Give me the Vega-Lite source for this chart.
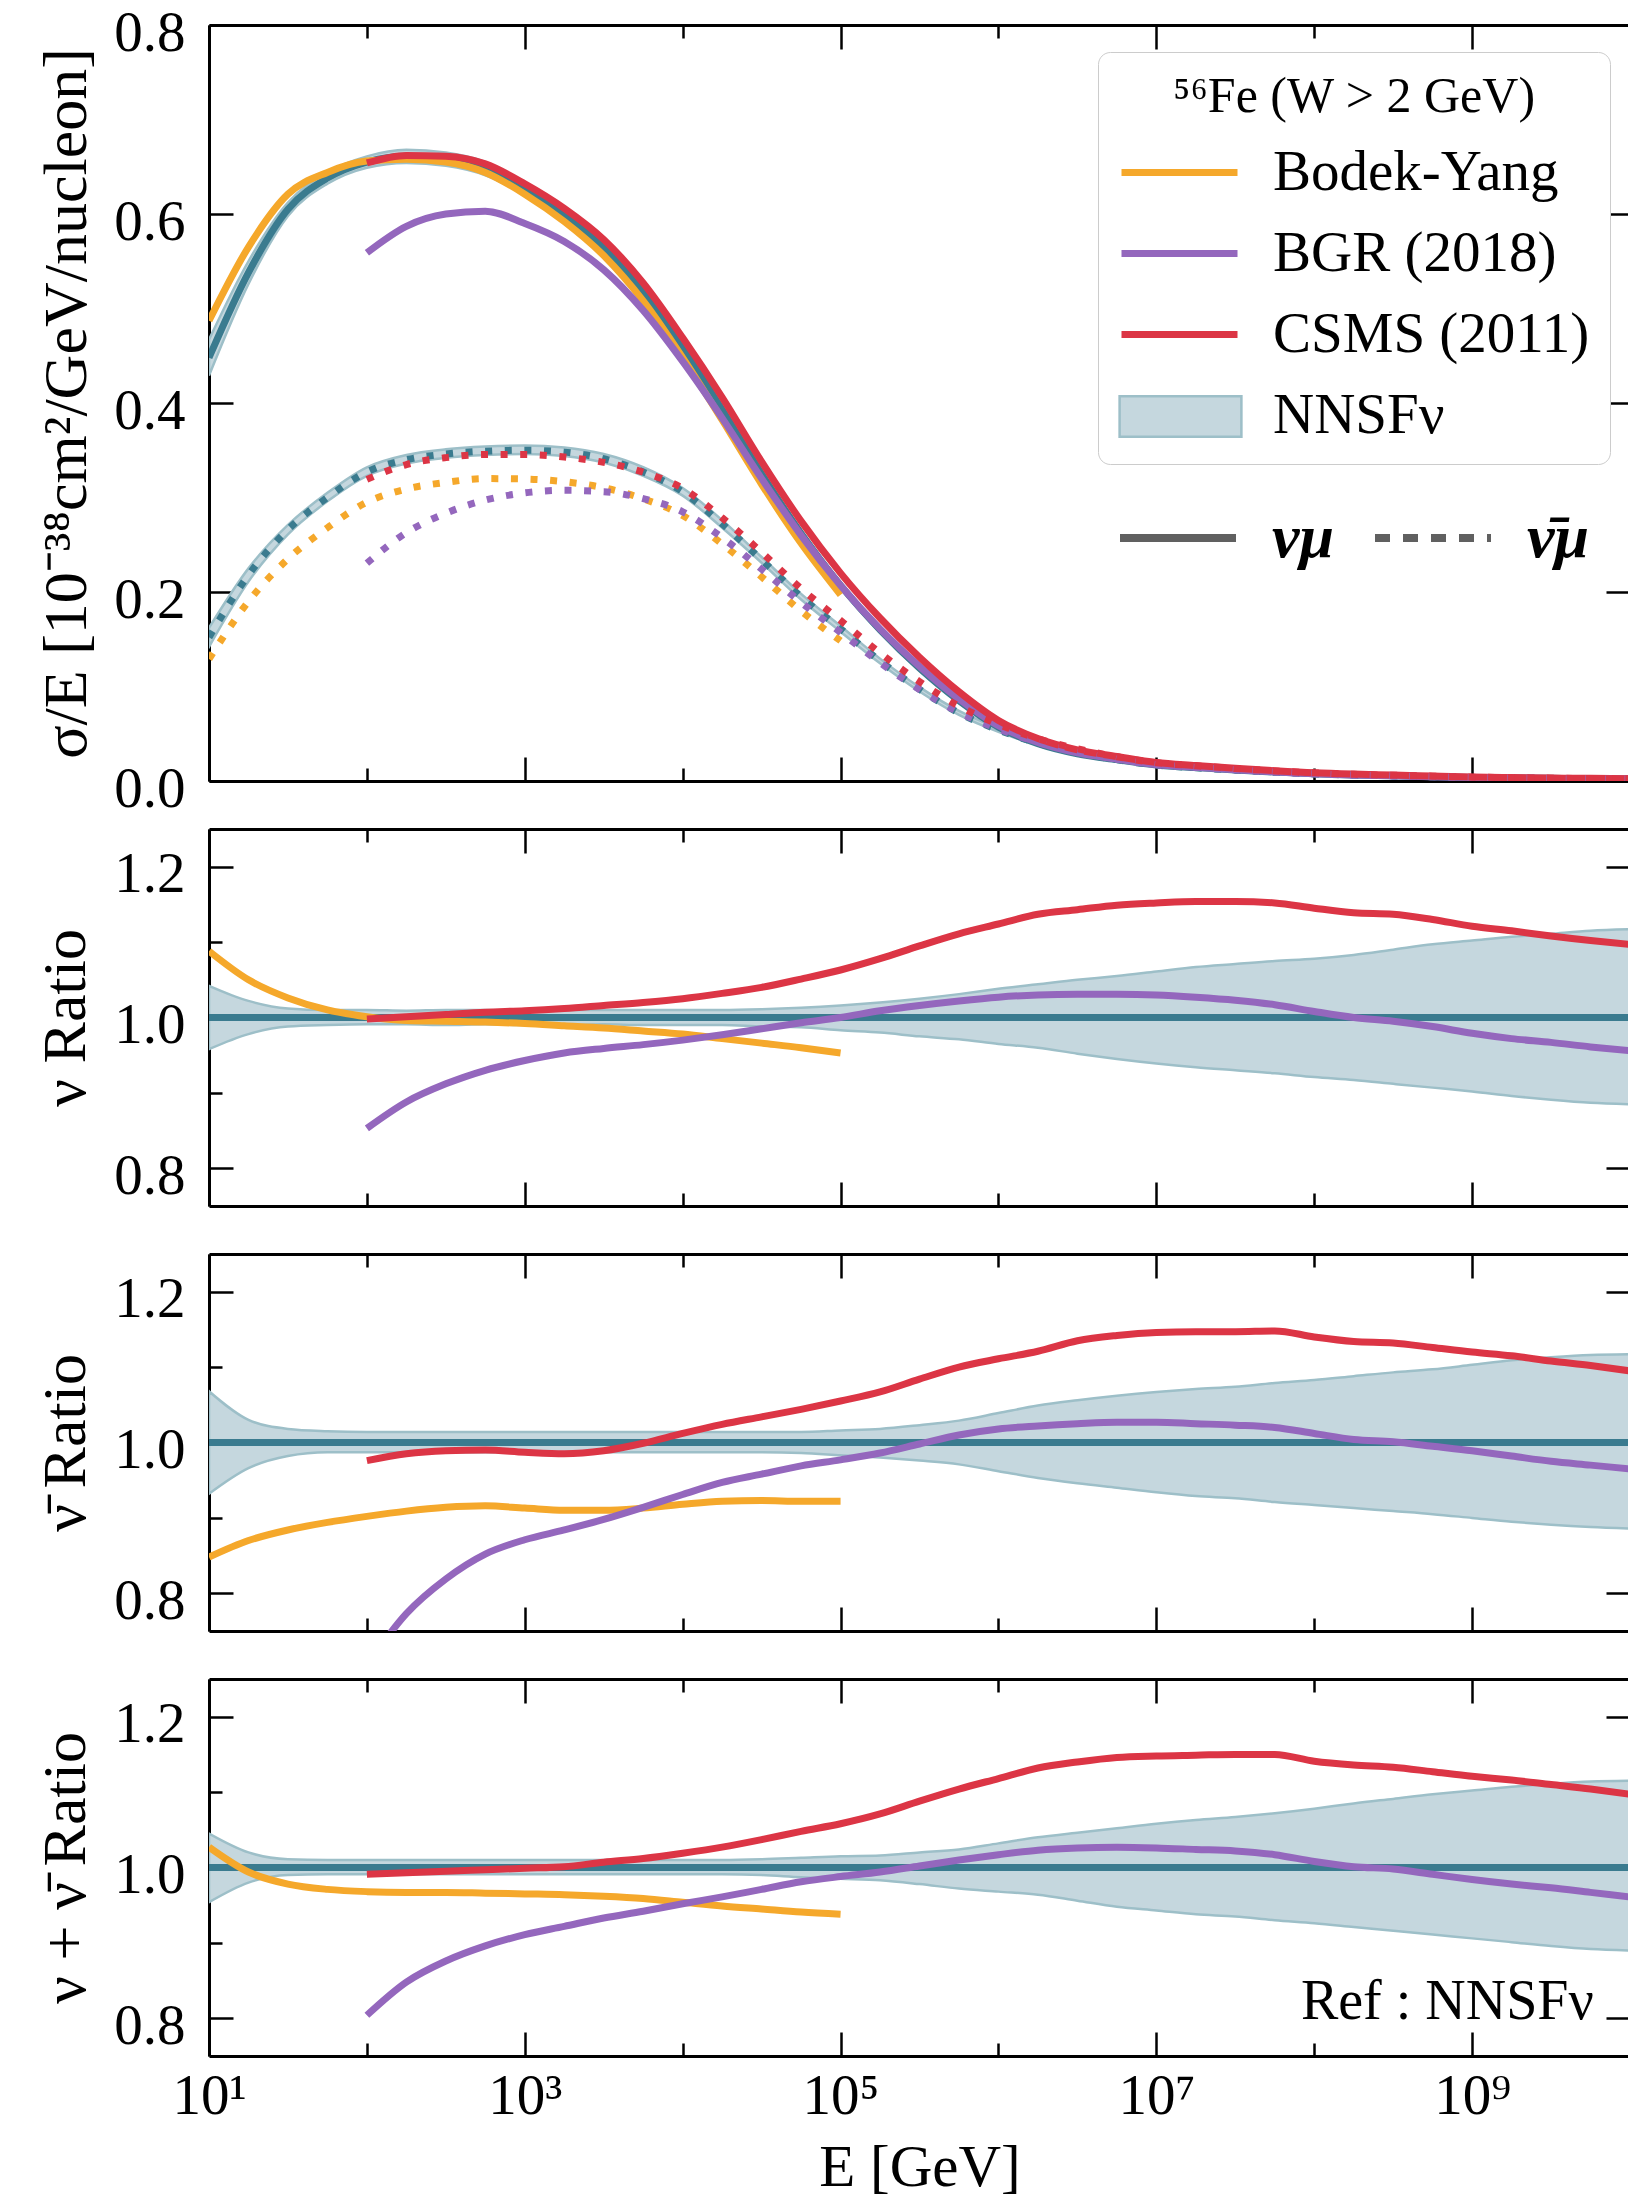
{
"$schema":"https://vega.github.io/schema/vega-lite/v6.json",
"background":"white",
"padding":{"left":33,"top":4,"right":0,"bottom":0},
"config":{"view":{"stroke":null},"font":"Liberation Serif",
"axis":{"labelFont":"Liberation Serif","titleFont":"Liberation Serif","labelFontSize":57,"titleFontSize":62,"titleFontWeight":"normal","labelColor":"#000000","titleColor":"#000000","tickColor":"#000000","domainColor":"#000000","domainWidth":3,"tickWidth":2.5,"grid":false,"labelFlush":false,"labelOverlap":false,"labelBound":false}},
"datasets":{
"top":[
{"E":10,"nu":"nu","c":0.448,"lo":0.429,"hi":0.467,"BY":0.487},
{"E":17.78,"nu":"nu","c":0.538,"lo":0.526,"hi":0.55,"BY":0.565},
{"E":31.62,"nu":"nu","c":0.605,"lo":0.598,"hi":0.612,"BY":0.621},
{"E":56.23,"nu":"nu","c":0.638,"lo":0.632,"hi":0.644,"BY":0.644},
{"E":100,"nu":"nu","c":0.655,"lo":0.649,"hi":0.661,"BY":0.656,"BGR":0.559,"CSMS":0.654},
{"E":177.8,"nu":"nu","c":0.661,"lo":0.654,"hi":0.668,"BY":0.658,"BGR":0.587,"CSMS":0.662},
{"E":316.2,"nu":"nu","c":0.658,"lo":0.651,"hi":0.665,"BY":0.655,"BGR":0.6,"CSMS":0.661},
{"E":562.3,"nu":"nu","c":0.648,"lo":0.641,"hi":0.655,"BY":0.644,"BGR":0.603,"CSMS":0.653},
{"E":1000,"nu":"nu","c":0.626,"lo":0.62,"hi":0.632,"BY":0.621,"BGR":0.59,"CSMS":0.632},
{"E":1778,"nu":"nu","c":0.599,"lo":0.593,"hi":0.605,"BY":0.592,"BGR":0.571,"CSMS":0.606},
{"E":3162,"nu":"nu","c":0.564,"lo":0.558,"hi":0.57,"BY":0.556,"BGR":0.541,"CSMS":0.573},
{"E":5623,"nu":"nu","c":0.517,"lo":0.512,"hi":0.522,"BY":0.508,"BGR":0.498,"CSMS":0.527},
{"E":10000,"nu":"nu","c":0.458,"lo":0.453,"hi":0.463,"BY":0.448,"BGR":0.444,"CSMS":0.469},
{"E":17783,"nu":"nu","c":0.393,"lo":0.389,"hi":0.397,"BY":0.382,"BGR":0.384,"CSMS":0.406},
{"E":31623,"nu":"nu","c":0.325,"lo":0.321,"hi":0.329,"BY":0.314,"BGR":0.32,"CSMS":0.338},
{"E":56234,"nu":"nu","c":0.262,"lo":0.259,"hi":0.265,"BY":0.2515,"BGR":0.26,"CSMS":0.275},
{"E":100000,"nu":"nu","c":0.207,"lo":0.204,"hi":0.21,"BY":0.197,"BGR":0.207,"CSMS":0.22},
{"E":177828,"nu":"nu","c":0.16,"lo":0.157,"hi":0.163,"BGR":0.161,"CSMS":0.1725},
{"E":316228,"nu":"nu","c":0.1195,"lo":0.1165,"hi":0.1225,"BGR":0.1214,"CSMS":0.1309},
{"E":562341,"nu":"nu","c":0.085,"lo":0.0825,"hi":0.0876,"BGR":0.0869,"CSMS":0.0944},
{"E":1000000,"nu":"nu","c":0.057,"lo":0.055,"hi":0.059,"BGR":0.0585,"CSMS":0.0641},
{"E":1778279,"nu":"nu","c":0.0395,"lo":0.038,"hi":0.041,"BGR":0.0407,"CSMS":0.0449},
{"E":3162278,"nu":"nu","c":0.0288,"lo":0.0274,"hi":0.0302,"BGR":0.0297,"CSMS":0.0329},
{"E":5623413,"nu":"nu","c":0.0226,"lo":0.0214,"hi":0.0238,"BGR":0.0233,"CSMS":0.026},
{"E":10000000,"nu":"nu","c":0.017,"lo":0.016,"hi":0.018,"BGR":0.0175,"CSMS":0.0196},
{"E":17782794,"nu":"nu","c":0.0142,"lo":0.0133,"hi":0.0151,"BGR":0.0146,"CSMS":0.0164},
{"E":31622777,"nu":"nu","c":0.0117,"lo":0.0109,"hi":0.0125,"BGR":0.012,"CSMS":0.0135},
{"E":56234133,"nu":"nu","c":0.0095,"lo":0.0088,"hi":0.0102,"BGR":0.0097,"CSMS":0.0109},
{"E":100000000,"nu":"nu","c":0.0076,"lo":0.007,"hi":0.0082,"BGR":0.0077,"CSMS":0.0087},
{"E":177827941,"nu":"nu","c":0.0064,"lo":0.0059,"hi":0.0069,"BGR":0.0064,"CSMS":0.0073},
{"E":316227766,"nu":"nu","c":0.0055,"lo":0.005,"hi":0.006,"BGR":0.0055,"CSMS":0.0063},
{"E":562341325,"nu":"nu","c":0.0046,"lo":0.0042,"hi":0.005,"BGR":0.0045,"CSMS":0.0052},
{"E":1000000000,"nu":"nu","c":0.0038,"lo":0.0034,"hi":0.0042,"BGR":0.0037,"CSMS":0.0043},
{"E":1778279410,"nu":"nu","c":0.0033,"lo":0.003,"hi":0.0036,"BGR":0.0032,"CSMS":0.0037},
{"E":3162277660,"nu":"nu","c":0.0028,"lo":0.0025,"hi":0.0031,"BGR":0.0027,"CSMS":0.0031},
{"E":5623413252,"nu":"nu","c":0.0025,"lo":0.0022,"hi":0.0028,"BGR":0.0024,"CSMS":0.0028},
{"E":10000000000,"nu":"nu","c":0.0022,"lo":0.0019,"hi":0.0025,"BGR":0.0021,"CSMS":0.0024},
{"E":10,"nu":"nubar","c":0.152,"lo":0.142,"hi":0.162,"BY":0.129},
{"E":17.78,"nu":"nubar","c":0.218,"lo":0.211,"hi":0.225,"BY":0.19},
{"E":31.62,"nu":"nubar","c":0.266,"lo":0.261,"hi":0.271,"BY":0.235},
{"E":56.23,"nu":"nubar","c":0.3,"lo":0.296,"hi":0.305,"BY":0.268},
{"E":100,"nu":"nubar","c":0.327,"lo":0.323,"hi":0.332,"BY":0.295,"BGR":0.2305,"CSMS":0.3192},
{"E":177.8,"nu":"nubar","c":0.34,"lo":0.336,"hi":0.345,"BY":0.309,"BGR":0.2628,"CSMS":0.3349},
{"E":316.2,"nu":"nubar","c":0.346,"lo":0.342,"hi":0.351,"BY":0.316,"BGR":0.2834,"CSMS":0.3422},
{"E":562.3,"nu":"nubar","c":0.349,"lo":0.345,"hi":0.354,"BY":0.32,"BGR":0.2973,"CSMS":0.3455},
{"E":1000,"nu":"nubar","c":0.35,"lo":0.346,"hi":0.355,"BY":0.3196,"BGR":0.3049,"CSMS":0.3455},
{"E":1778,"nu":"nubar","c":0.348,"lo":0.344,"hi":0.353,"BY":0.3167,"BGR":0.3076,"CSMS":0.3428},
{"E":3162,"nu":"nubar","c":0.341,"lo":0.337,"hi":0.346,"BY":0.3103,"BGR":0.3062,"CSMS":0.3372},
{"E":5623,"nu":"nubar","c":0.327,"lo":0.323,"hi":0.332,"BY":0.2986,"BGR":0.2989,"CSMS":0.3267},
{"E":10000,"nu":"nubar","c":0.306,"lo":0.302,"hi":0.31,"BY":0.2809,"BGR":0.2849,"CSMS":0.3097},
{"E":17783,"nu":"nubar","c":0.272,"lo":0.268,"hi":0.276,"BY":0.2508,"BGR":0.2576,"CSMS":0.2785},
{"E":31623,"nu":"nubar","c":0.234,"lo":0.231,"hi":0.237,"BY":0.216,"BGR":0.2242,"CSMS":0.242},
{"E":56234,"nu":"nubar","c":0.195,"lo":0.192,"hi":0.198,"BY":0.1798,"BGR":0.189,"CSMS":0.2036},
{"E":100000,"nu":"nubar","c":0.161,"lo":0.158,"hi":0.164,"BY":0.1484,"BGR":0.1573,"CSMS":0.1699},
{"E":177828,"nu":"nubar","c":0.127,"lo":0.1245,"hi":0.1295,"BGR":0.1252,"CSMS":0.1355},
{"E":316228,"nu":"nubar","c":0.097,"lo":0.0947,"hi":0.0993,"BGR":0.0968,"CSMS":0.1051},
{"E":562341,"nu":"nubar","c":0.072,"lo":0.0699,"hi":0.0741,"BGR":0.0727,"CSMS":0.0792},
{"E":1000000,"nu":"nubar","c":0.054,"lo":0.052,"hi":0.056,"BGR":0.055,"CSMS":0.06},
{"E":1778279,"nu":"nubar","c":0.04,"lo":0.0381,"hi":0.042,"BGR":0.0409,"CSMS":0.0448},
{"E":3162278,"nu":"nubar","c":0.03,"lo":0.0284,"hi":0.0317,"BGR":0.0308,"CSMS":0.0341},
{"E":5623413,"nu":"nubar","c":0.0225,"lo":0.0212,"hi":0.0239,"BGR":0.0231,"CSMS":0.0257},
{"E":10000000,"nu":"nubar","c":0.0168,"lo":0.0157,"hi":0.0179,"BGR":0.0173,"CSMS":0.0193},
{"E":17782794,"nu":"nubar","c":0.014,"lo":0.013,"hi":0.015,"BGR":0.0144,"CSMS":0.0161},
{"E":31622777,"nu":"nubar","c":0.0115,"lo":0.0106,"hi":0.0124,"BGR":0.0118,"CSMS":0.0132},
{"E":56234133,"nu":"nubar","c":0.0093,"lo":0.0086,"hi":0.01,"BGR":0.0095,"CSMS":0.0107},
{"E":100000000,"nu":"nubar","c":0.0075,"lo":0.0069,"hi":0.0081,"BGR":0.0076,"CSMS":0.0086},
{"E":177827941,"nu":"nubar","c":0.0063,"lo":0.0058,"hi":0.0069,"BGR":0.0063,"CSMS":0.0071},
{"E":316227766,"nu":"nubar","c":0.0054,"lo":0.0049,"hi":0.0059,"BGR":0.0054,"CSMS":0.0061},
{"E":562341325,"nu":"nubar","c":0.0045,"lo":0.0041,"hi":0.0049,"BGR":0.0045,"CSMS":0.0051},
{"E":1000000000,"nu":"nubar","c":0.0037,"lo":0.0033,"hi":0.0041,"BGR":0.0037,"CSMS":0.0041},
{"E":1778279410,"nu":"nubar","c":0.0032,"lo":0.0029,"hi":0.0035,"BGR":0.0031,"CSMS":0.0036},
{"E":3162277660,"nu":"nubar","c":0.0027,"lo":0.0024,"hi":0.003,"BGR":0.0026,"CSMS":0.003},
{"E":5623413252,"nu":"nubar","c":0.0024,"lo":0.0021,"hi":0.0027,"BGR":0.0023,"CSMS":0.0026},
{"E":10000000000,"nu":"nubar","c":0.0021,"lo":0.0019,"hi":0.0023,"BGR":0.002,"CSMS":0.0023}
],
"rnu":[
{"E":10,"lo":0.958,"hi":1.042,"BY":1.088},
{"E":17.78,"lo":0.978,"hi":1.022,"BY":1.05},
{"E":31.62,"lo":0.988,"hi":1.012,"BY":1.026},
{"E":56.23,"lo":0.99,"hi":1.01,"BY":1.01},
{"E":100,"lo":0.991,"hi":1.01,"BY":1.001,"BGR":0.853,"CSMS":0.998},
{"E":177.8,"lo":0.991,"hi":1.009,"BY":0.996,"BGR":0.888,"CSMS":1.001},
{"E":316.2,"lo":0.99,"hi":1.01,"BY":0.995,"BGR":0.912,"CSMS":1.004},
{"E":562.3,"lo":0.991,"hi":1.01,"BY":0.994,"BGR":0.93,"CSMS":1.007},
{"E":1000,"lo":0.99,"hi":1.009,"BY":0.992,"BGR":0.943,"CSMS":1.009},
{"E":1778,"lo":0.99,"hi":1.01,"BY":0.989,"BGR":0.953,"CSMS":1.012},
{"E":3162,"lo":0.991,"hi":1.01,"BY":0.986,"BGR":0.959,"CSMS":1.016},
{"E":5623,"lo":0.99,"hi":1.01,"BY":0.982,"BGR":0.964,"CSMS":1.02},
{"E":10000,"lo":0.99,"hi":1.01,"BY":0.978,"BGR":0.97,"CSMS":1.025},
{"E":17783,"lo":0.99,"hi":1.01,"BY":0.972,"BGR":0.977,"CSMS":1.032},
{"E":31623,"lo":0.988,"hi":1.011,"BY":0.966,"BGR":0.985,"CSMS":1.04},
{"E":56234,"lo":0.987,"hi":1.013,"BY":0.96,"BGR":0.993,"CSMS":1.051},
{"E":100000,"lo":0.983,"hi":1.016,"BY":0.953,"BGR":1.0,"CSMS":1.063},
{"E":177828,"lo":0.98,"hi":1.02,"BGR":1.009,"CSMS":1.078},
{"E":316228,"lo":0.975,"hi":1.025,"BGR":1.016,"CSMS":1.095},
{"E":562341,"lo":0.971,"hi":1.031,"BGR":1.022,"CSMS":1.111},
{"E":1000000,"lo":0.965,"hi":1.038,"BGR":1.027,"CSMS":1.124},
{"E":1778279,"lo":0.96,"hi":1.044,"BGR":1.03,"CSMS":1.137},
{"E":3162278,"lo":0.952,"hi":1.05,"BGR":1.031,"CSMS":1.143},
{"E":5623413,"lo":0.945,"hi":1.055,"BGR":1.031,"CSMS":1.149},
{"E":10000000,"lo":0.939,"hi":1.061,"BGR":1.03,"CSMS":1.152},
{"E":17782794,"lo":0.934,"hi":1.067,"BGR":1.027,"CSMS":1.154},
{"E":31622777,"lo":0.93,"hi":1.071,"BGR":1.023,"CSMS":1.154},
{"E":56234133,"lo":0.926,"hi":1.075,"BGR":1.017,"CSMS":1.152},
{"E":100000000,"lo":0.921,"hi":1.078,"BGR":1.008,"CSMS":1.145},
{"E":177827941,"lo":0.917,"hi":1.083,"BGR":1.0,"CSMS":1.139},
{"E":316227766,"lo":0.912,"hi":1.09,"BGR":0.995,"CSMS":1.137},
{"E":562341325,"lo":0.907,"hi":1.097,"BGR":0.988,"CSMS":1.13},
{"E":1000000000,"lo":0.902,"hi":1.102,"BGR":0.979,"CSMS":1.121},
{"E":1778279410,"lo":0.896,"hi":1.107,"BGR":0.972,"CSMS":1.115},
{"E":3162277660,"lo":0.891,"hi":1.111,"BGR":0.967,"CSMS":1.108},
{"E":5623413252,"lo":0.887,"hi":1.115,"BGR":0.961,"CSMS":1.102},
{"E":10000000000,"lo":0.885,"hi":1.117,"BGR":0.956,"CSMS":1.097}
],
"rnubar":[
{"E":10,"lo":0.932,"hi":1.068,"BY":0.848},
{"E":17.78,"lo":0.966,"hi":1.03,"BY":0.87},
{"E":31.62,"lo":0.982,"hi":1.018,"BY":0.884},
{"E":56.23,"lo":0.987,"hi":1.015,"BY":0.894},
{"E":100,"lo":0.987,"hi":1.014,"BY":0.902,"BGR":0.705,"CSMS":0.976},
{"E":177.8,"lo":0.987,"hi":1.014,"BY":0.909,"BGR":0.773,"CSMS":0.985},
{"E":316.2,"lo":0.987,"hi":1.014,"BY":0.914,"BGR":0.819,"CSMS":0.989},
{"E":562.3,"lo":0.987,"hi":1.014,"BY":0.916,"BGR":0.852,"CSMS":0.99},
{"E":1000,"lo":0.987,"hi":1.014,"BY":0.913,"BGR":0.871,"CSMS":0.987},
{"E":1778,"lo":0.987,"hi":1.014,"BY":0.91,"BGR":0.884,"CSMS":0.985},
{"E":3162,"lo":0.987,"hi":1.014,"BY":0.91,"BGR":0.898,"CSMS":0.989},
{"E":5623,"lo":0.987,"hi":1.014,"BY":0.913,"BGR":0.914,"CSMS":0.999},
{"E":10000,"lo":0.987,"hi":1.014,"BY":0.918,"BGR":0.931,"CSMS":1.012},
{"E":17783,"lo":0.987,"hi":1.014,"BY":0.922,"BGR":0.947,"CSMS":1.024},
{"E":31623,"lo":0.987,"hi":1.014,"BY":0.923,"BGR":0.958,"CSMS":1.034},
{"E":56234,"lo":0.986,"hi":1.014,"BY":0.922,"BGR":0.969,"CSMS":1.044},
{"E":100000,"lo":0.983,"hi":1.016,"BY":0.922,"BGR":0.977,"CSMS":1.055},
{"E":177828,"lo":0.98,"hi":1.018,"BGR":0.986,"CSMS":1.067},
{"E":316228,"lo":0.976,"hi":1.023,"BGR":0.998,"CSMS":1.084},
{"E":562341,"lo":0.971,"hi":1.029,"BGR":1.01,"CSMS":1.1},
{"E":1000000,"lo":0.962,"hi":1.039,"BGR":1.018,"CSMS":1.111},
{"E":1778279,"lo":0.953,"hi":1.049,"BGR":1.022,"CSMS":1.121},
{"E":3162278,"lo":0.946,"hi":1.056,"BGR":1.025,"CSMS":1.135},
{"E":5623413,"lo":0.94,"hi":1.062,"BGR":1.027,"CSMS":1.142},
{"E":10000000,"lo":0.934,"hi":1.067,"BGR":1.027,"CSMS":1.146},
{"E":17782794,"lo":0.929,"hi":1.071,"BGR":1.025,"CSMS":1.147},
{"E":31622777,"lo":0.926,"hi":1.074,"BGR":1.023,"CSMS":1.147},
{"E":56234133,"lo":0.921,"hi":1.079,"BGR":1.02,"CSMS":1.148},
{"E":100000000,"lo":0.917,"hi":1.083,"BGR":1.012,"CSMS":1.14},
{"E":177827941,"lo":0.913,"hi":1.088,"BGR":1.004,"CSMS":1.134},
{"E":316227766,"lo":0.909,"hi":1.093,"BGR":1.001,"CSMS":1.132},
{"E":562341325,"lo":0.905,"hi":1.097,"BGR":0.995,"CSMS":1.126},
{"E":1000000000,"lo":0.9,"hi":1.103,"BGR":0.989,"CSMS":1.12},
{"E":1778279410,"lo":0.895,"hi":1.109,"BGR":0.982,"CSMS":1.115},
{"E":3162277660,"lo":0.891,"hi":1.113,"BGR":0.975,"CSMS":1.108},
{"E":5623413252,"lo":0.888,"hi":1.116,"BGR":0.97,"CSMS":1.102},
{"E":10000000000,"lo":0.886,"hi":1.117,"BGR":0.965,"CSMS":1.095}
],
"rsum":[
{"E":10,"lo":0.954,"hi":1.045,"BY":1.027},
{"E":17.78,"lo":0.98,"hi":1.02,"BY":0.994},
{"E":31.62,"lo":0.99,"hi":1.011,"BY":0.978},
{"E":56.23,"lo":0.991,"hi":1.01,"BY":0.971},
{"E":100,"lo":0.991,"hi":1.01,"BY":0.968,"BGR":0.804,"CSMS":0.991},
{"E":177.8,"lo":0.991,"hi":1.01,"BY":0.967,"BGR":0.848,"CSMS":0.993},
{"E":316.2,"lo":0.991,"hi":1.01,"BY":0.967,"BGR":0.876,"CSMS":0.995},
{"E":562.3,"lo":0.991,"hi":1.01,"BY":0.966,"BGR":0.896,"CSMS":0.997},
{"E":1000,"lo":0.991,"hi":1.01,"BY":0.965,"BGR":0.911,"CSMS":0.999},
{"E":1778,"lo":0.991,"hi":1.01,"BY":0.964,"BGR":0.922,"CSMS":1.001},
{"E":3162,"lo":0.991,"hi":1.01,"BY":0.962,"BGR":0.933,"CSMS":1.007},
{"E":5623,"lo":0.991,"hi":1.01,"BY":0.959,"BGR":0.942,"CSMS":1.012},
{"E":10000,"lo":0.991,"hi":1.01,"BY":0.954,"BGR":0.952,"CSMS":1.019},
{"E":17783,"lo":0.991,"hi":1.01,"BY":0.949,"BGR":0.961,"CSMS":1.027},
{"E":31623,"lo":0.99,"hi":1.011,"BY":0.945,"BGR":0.971,"CSMS":1.037},
{"E":56234,"lo":0.987,"hi":1.013,"BY":0.941,"BGR":0.981,"CSMS":1.048},
{"E":100000,"lo":0.985,"hi":1.015,"BY":0.938,"BGR":0.988,"CSMS":1.058},
{"E":177828,"lo":0.983,"hi":1.016,"BGR":0.994,"CSMS":1.071},
{"E":316228,"lo":0.978,"hi":1.02,"BGR":1.002,"CSMS":1.088},
{"E":562341,"lo":0.972,"hi":1.024,"BGR":1.01,"CSMS":1.104},
{"E":1000000,"lo":0.968,"hi":1.032,"BGR":1.017,"CSMS":1.118},
{"E":1778279,"lo":0.964,"hi":1.04,"BGR":1.023,"CSMS":1.132},
{"E":3162278,"lo":0.956,"hi":1.046,"BGR":1.026,"CSMS":1.14},
{"E":5623413,"lo":0.948,"hi":1.052,"BGR":1.027,"CSMS":1.146},
{"E":10000000,"lo":0.943,"hi":1.058,"BGR":1.026,"CSMS":1.148},
{"E":17782794,"lo":0.938,"hi":1.063,"BGR":1.024,"CSMS":1.149},
{"E":31622777,"lo":0.935,"hi":1.067,"BGR":1.022,"CSMS":1.15},
{"E":56234133,"lo":0.93,"hi":1.072,"BGR":1.017,"CSMS":1.15},
{"E":100000000,"lo":0.926,"hi":1.078,"BGR":1.008,"CSMS":1.141},
{"E":177827941,"lo":0.921,"hi":1.085,"BGR":1.001,"CSMS":1.136},
{"E":316227766,"lo":0.916,"hi":1.091,"BGR":0.998,"CSMS":1.133},
{"E":562341325,"lo":0.911,"hi":1.097,"BGR":0.991,"CSMS":1.127},
{"E":1000000000,"lo":0.906,"hi":1.102,"BGR":0.984,"CSMS":1.121},
{"E":1778279410,"lo":0.901,"hi":1.107,"BGR":0.978,"CSMS":1.116},
{"E":3162277660,"lo":0.896,"hi":1.111,"BGR":0.973,"CSMS":1.11},
{"E":5623413252,"lo":0.892,"hi":1.114,"BGR":0.967,"CSMS":1.104},
{"E":10000000000,"lo":0.89,"hi":1.115,"BGR":0.961,"CSMS":1.097}
]
},
"spacing":48,
"bounds":"flush",
"resolve":{"scale":{"color":"independent","strokeDash":"independent","fill":"independent"}},
"vconcat":[
{
"width":1421,"height":756,
"data":{"name":"top"},
"resolve":{"axis":{"x":"independent","y":"independent"}},
"layer":[
{"transform":[{"filter":"datum.nu == 'nu'"}],
"mark":{"type":"area","interpolate":"monotone","fill":"#c5d7de","stroke":"#9dbfc8","strokeWidth":2.5,"clip":true},
"encoding":{
"x":{"field":"E","type":"quantitative","scale":{"type":"log","domain":[10,10000000000],"nice":false},"axis":{"orient":"bottom","values":[10,1000,100000,10000000,1000000000],"tickSize":-24,"labels":false,"title":null}},
"y":{"field":"lo","type":"quantitative","scale":{"domain":[0,0.8],"nice":false,"zero":false},"axis":{"orient":"left","values":[0,0.2,0.4,0.6,0.8],"format":".1f","tickSize":-24,"labelPadding":48,"labelOffset":8,"title":"σ/E [10⁻³⁸cm²/GeV/nucleon]","titleX":-143,"titleBaseline":"middle"}},
"y2":{"field":"hi"}}},
{"transform":[{"filter":"datum.nu == 'nubar'"}],
"mark":{"type":"area","interpolate":"monotone","fill":"#c5d7de","stroke":"#9dbfc8","strokeWidth":2.5,"clip":true},
"encoding":{
"x":{"field":"E","type":"quantitative","scale":{"type":"log","domain":[10,10000000000],"nice":false},"axis":{"orient":"bottom","values":[100,10000,1000000,100000000],"tickSize":-13,"labels":false,"domain":false,"title":null}},
"y":{"field":"lo","type":"quantitative","scale":{"domain":[0,0.8],"nice":false,"zero":false},"axis":{"orient":"right","values":[0,0.2,0.4,0.6,0.8],"tickSize":-24,"labels":false,"domain":false,"title":null}},
"y2":{"field":"hi"}}},
{"transform":[{"filter":"datum.nu == 'nu'"}],
"mark":{"type":"line","interpolate":"monotone","strokeWidth":7,"color":"#3a7b8f","clip":true},
"encoding":{
"x":{"field":"E","type":"quantitative","scale":{"type":"log","domain":[10,10000000000],"nice":false},"axis":{"orient":"top","values":[10,1000,100000,10000000,1000000000],"tickSize":-24,"labels":false,"title":null}},
"y":{"field":"c","type":"quantitative","scale":{"domain":[0,0.8],"nice":false,"zero":false},"axis":null}}},
{"transform":[{"filter":"datum.nu == 'nubar'"}],
"mark":{"type":"line","interpolate":"monotone","strokeWidth":7,"color":"#3a7b8f","strokeDash":[7,12.6],"clip":true},
"encoding":{
"x":{"field":"E","type":"quantitative","scale":{"type":"log","domain":[10,10000000000],"nice":false},"axis":{"orient":"top","values":[100,10000,1000000,100000000],"tickSize":-13,"labels":false,"domain":false,"title":null}},
"y":{"field":"c","type":"quantitative","scale":{"domain":[0,0.8],"nice":false,"zero":false},"axis":null}}},
{"transform":[{"filter":"datum.nu == 'nu'"},{"fold":["BY","BGR","CSMS"],"as":["model","val"]}],
"mark":{"type":"line","interpolate":"monotone","strokeWidth":7,"clip":true},
"encoding":{
"x":{"field":"E","type":"quantitative","scale":{"type":"log","domain":[10,10000000000],"nice":false},"axis":null},
"y":{"field":"val","type":"quantitative","scale":{"domain":[0,0.8],"nice":false,"zero":false},"axis":null},
"color":{"field":"model","type":"nominal","scale":{"domain":["BY","BGR","CSMS","NNSFν"],"range":["#f5a82b","#9467bd","#dc3545","#c5d7de"]},
"legend":{"orient":"none","legendX":889,"legendY":27,"title":"⁵⁶Fe (W > 2 GeV)","titleFontSize":50,"titleFontWeight":"normal","titleFont":"Liberation Serif","titleColor":"#000000","titleAnchor":"middle","titlePadding":18,"titleLimit":1000,"labelFont":"Liberation Serif","labelFontSize":57,"labelColor":"#000000","labelLimit":1000,"labelOffset":90,"symbolSize":3364,"symbolType":"M-1,0H3","symbolStrokeWidth":7,"rowPadding":20,"padding":20,"fillColor":"white","strokeColor":"#cccccc","cornerRadius":12,
"labelExpr":"datum.value == 'BY' ? 'Bodek-Yang' : datum.value == 'BGR' ? 'BGR (2018)' : datum.value == 'CSMS' ? 'CSMS (2011)' : 'NNSFν'"}}}},
{"transform":[{"filter":"datum.nu == 'nubar'"},{"fold":["BY","BGR","CSMS"],"as":["model","val"]}],
"mark":{"type":"line","interpolate":"monotone","strokeWidth":7,"strokeDash":[7,12.6],"clip":true},
"encoding":{
"x":{"field":"E","type":"quantitative","scale":{"type":"log","domain":[10,10000000000],"nice":false},"axis":null},
"y":{"field":"val","type":"quantitative","scale":{"domain":[0,0.8],"nice":false,"zero":false},"axis":null},
"color":{"field":"model","type":"nominal","scale":{"domain":["BY","BGR","CSMS","NNSFν"],"range":["#f5a82b","#9467bd","#dc3545","#c5d7de"]}}}},
{"transform":[{"filter":"datum.E < 0"}],
"mark":{"type":"area"},
"encoding":{
"x":{"field":"E","type":"quantitative","scale":{"type":"log","domain":[10,10000000000],"nice":false},"axis":null},
"y":{"field":"lo","type":"quantitative","scale":{"domain":[0,0.8],"nice":false,"zero":false},"axis":null},
"y2":{"field":"hi"},
"fill":{"field":"nu","type":"nominal","scale":{"domain":["NNSFν"],"range":["#c5d7de"]},
"legend":{"orient":"none","legendX":912,"legendY":361,"title":null,"padding":0,"symbolType":"M-1.1,-0.7H3.1V0.7H-1.1Z","symbolSize":3364,"symbolStrokeColor":"#9dbfc8","symbolStrokeWidth":2.5,"symbolOpacity":1,"labelExpr":"''","labelFontSize":1}}}},
{"transform":[{"filter":"datum.E < 0"}],
"mark":{"type":"line"},
"encoding":{
"x":{"field":"E","type":"quantitative","scale":{"type":"log","domain":[10,10000000000],"nice":false},"axis":null},
"y":{"field":"c","type":"quantitative","scale":{"domain":[0,0.8],"nice":false,"zero":false},"axis":null},
"strokeDash":{"field":"nu","type":"nominal","scale":{"domain":["nu","nubar"],"range":[[1,0],[15,13]]},
"legend":{"orient":"none","legendX":907,"legendY":480,"direction":"horizontal","title":null,"padding":0,"labelFont":"Liberation Serif","labelFontSize":62,"labelFontStyle":"italic","labelFontWeight":"bold","labelColor":"#000000","labelOffset":90,"columnPadding":25,"symbolSize":3364,"symbolType":"M-1,0H3","symbolStrokeWidth":8,"symbolStrokeColor":"#606060","symbolOpacity":1,"labelLimit":1000,
"labelExpr":"datum.value == 'nu' ? 'νμ' : 'ν̄μ'"}}}}
]},
{
"width":1421,"height":377,
"data":{"name":"rnu"},
"resolve":{"axis":{"x":"independent","y":"independent"}},
"layer":[
{"mark":{"type":"area","interpolate":"monotone","fill":"#c5d7de","stroke":"#9dbfc8","strokeWidth":2.5,"clip":true},
"encoding":{
"x":{"field":"E","type":"quantitative","scale":{"type":"log","domain":[10,10000000000],"nice":false},"axis":{"orient":"bottom","values":[10,1000,100000,10000000,1000000000],"tickSize":-24,"labels":false,"title":null}},
"y":{"field":"lo","type":"quantitative","scale":{"domain":[0.75,1.25],"nice":false,"zero":false},"axis":{"orient":"left","values":[0.8,1.0,1.2],"format":".1f","tickSize":-24,"labelPadding":48,"labelOffset":8,"title":"ν Ratio","titleX":-144,"titleBaseline":"middle"}},
"y2":{"field":"hi"}}},
{"mark":{"type":"rule","color":"#3a7b8f","strokeWidth":7},
"encoding":{"y":{"datum":1,"type":"quantitative","scale":{"domain":[0.75,1.25],"nice":false,"zero":false},"axis":null}}},
{"mark":{"type":"line","interpolate":"monotone","strokeWidth":7,"color":"#f5a82b","clip":true},
"encoding":{
"x":{"field":"E","type":"quantitative","scale":{"type":"log","domain":[10,10000000000],"nice":false},"axis":{"orient":"bottom","values":[100,10000,1000000,100000000],"tickSize":-13,"labels":false,"domain":false,"title":null}},
"y":{"field":"BY","type":"quantitative","scale":{"domain":[0.75,1.25],"nice":false,"zero":false},"axis":{"orient":"left","values":[0.9,1.1],"tickSize":-13,"labels":false,"domain":false,"title":null}}}},
{"mark":{"type":"line","interpolate":"monotone","strokeWidth":7,"color":"#9467bd","clip":true},
"encoding":{
"x":{"field":"E","type":"quantitative","scale":{"type":"log","domain":[10,10000000000],"nice":false},"axis":{"orient":"top","values":[10,1000,100000,10000000,1000000000],"tickSize":-24,"labels":false,"title":null}},
"y":{"field":"BGR","type":"quantitative","scale":{"domain":[0.75,1.25],"nice":false,"zero":false},"axis":{"orient":"right","values":[0.8,1.0,1.2],"tickSize":-24,"labels":false,"domain":false,"title":null}}}},
{"mark":{"type":"line","interpolate":"monotone","strokeWidth":7,"color":"#dc3545","clip":true},
"encoding":{
"x":{"field":"E","type":"quantitative","scale":{"type":"log","domain":[10,10000000000],"nice":false},"axis":{"orient":"top","values":[100,10000,1000000,100000000],"tickSize":-13,"labels":false,"domain":false,"title":null}},
"y":{"field":"CSMS","type":"quantitative","scale":{"domain":[0.75,1.25],"nice":false,"zero":false},"axis":{"orient":"right","values":[0.9,1.1],"tickSize":-13,"labels":false,"domain":false,"title":null}}}}
]},
{
"width":1421,"height":377,
"data":{"name":"rnubar"},
"resolve":{"axis":{"x":"independent","y":"independent"}},
"layer":[
{"mark":{"type":"area","interpolate":"monotone","fill":"#c5d7de","stroke":"#9dbfc8","strokeWidth":2.5,"clip":true},
"encoding":{
"x":{"field":"E","type":"quantitative","scale":{"type":"log","domain":[10,10000000000],"nice":false},"axis":{"orient":"bottom","values":[10,1000,100000,10000000,1000000000],"tickSize":-24,"labels":false,"title":null}},
"y":{"field":"lo","type":"quantitative","scale":{"domain":[0.75,1.25],"nice":false,"zero":false},"axis":{"orient":"left","values":[0.8,1.0,1.2],"format":".1f","tickSize":-24,"labelPadding":48,"labelOffset":8,"title":"ν̄ Ratio","titleX":-144,"titleBaseline":"middle"}},
"y2":{"field":"hi"}}},
{"mark":{"type":"rule","color":"#3a7b8f","strokeWidth":7},
"encoding":{"y":{"datum":1,"type":"quantitative","scale":{"domain":[0.75,1.25],"nice":false,"zero":false},"axis":null}}},
{"mark":{"type":"line","interpolate":"monotone","strokeWidth":7,"color":"#f5a82b","clip":true},
"encoding":{
"x":{"field":"E","type":"quantitative","scale":{"type":"log","domain":[10,10000000000],"nice":false},"axis":{"orient":"bottom","values":[100,10000,1000000,100000000],"tickSize":-13,"labels":false,"domain":false,"title":null}},
"y":{"field":"BY","type":"quantitative","scale":{"domain":[0.75,1.25],"nice":false,"zero":false},"axis":{"orient":"left","values":[0.9,1.1],"tickSize":-13,"labels":false,"domain":false,"title":null}}}},
{"mark":{"type":"line","interpolate":"monotone","strokeWidth":7,"color":"#9467bd","clip":true},
"encoding":{
"x":{"field":"E","type":"quantitative","scale":{"type":"log","domain":[10,10000000000],"nice":false},"axis":{"orient":"top","values":[10,1000,100000,10000000,1000000000],"tickSize":-24,"labels":false,"title":null}},
"y":{"field":"BGR","type":"quantitative","scale":{"domain":[0.75,1.25],"nice":false,"zero":false},"axis":{"orient":"right","values":[0.8,1.0,1.2],"tickSize":-24,"labels":false,"domain":false,"title":null}}}},
{"mark":{"type":"line","interpolate":"monotone","strokeWidth":7,"color":"#dc3545","clip":true},
"encoding":{
"x":{"field":"E","type":"quantitative","scale":{"type":"log","domain":[10,10000000000],"nice":false},"axis":{"orient":"top","values":[100,10000,1000000,100000000],"tickSize":-13,"labels":false,"domain":false,"title":null}},
"y":{"field":"CSMS","type":"quantitative","scale":{"domain":[0.75,1.25],"nice":false,"zero":false},"axis":{"orient":"right","values":[0.9,1.1],"tickSize":-13,"labels":false,"domain":false,"title":null}}}}
]},
{
"width":1421,"height":377,
"data":{"name":"rsum"},
"resolve":{"axis":{"x":"independent","y":"independent"}},
"layer":[
{"mark":{"type":"area","interpolate":"monotone","fill":"#c5d7de","stroke":"#9dbfc8","strokeWidth":2.5,"clip":true},
"encoding":{
"x":{"field":"E","type":"quantitative","scale":{"type":"log","domain":[10,10000000000],"nice":false},"axis":{"orient":"bottom","values":[10,1000,100000,10000000,1000000000],"tickSize":-24,"labelPadding":36,"labelExpr":"'10' + (datum.value < 100 ? '¹' : datum.value < 10000 ? '³' : datum.value < 1000000 ? '⁵' : datum.value < 100000000 ? '⁷' : '⁹')","title":"E [GeV]","titlePadding":14,"titleFontSize":59}},
"y":{"field":"lo","type":"quantitative","scale":{"domain":[0.75,1.25],"nice":false,"zero":false},"axis":{"orient":"left","values":[0.8,1.0,1.2],"format":".1f","tickSize":-24,"labelPadding":48,"labelOffset":8,"title":"ν + ν̄ Ratio","titleX":-144,"titleBaseline":"middle"}},
"y2":{"field":"hi"}}},
{"mark":{"type":"rule","color":"#3a7b8f","strokeWidth":7},
"encoding":{"y":{"datum":1,"type":"quantitative","scale":{"domain":[0.75,1.25],"nice":false,"zero":false},"axis":null}}},
{"mark":{"type":"line","interpolate":"monotone","strokeWidth":7,"color":"#f5a82b","clip":true},
"encoding":{
"x":{"field":"E","type":"quantitative","scale":{"type":"log","domain":[10,10000000000],"nice":false},"axis":{"orient":"bottom","values":[100,10000,1000000,100000000],"tickSize":-13,"labels":false,"domain":false,"title":null}},
"y":{"field":"BY","type":"quantitative","scale":{"domain":[0.75,1.25],"nice":false,"zero":false},"axis":{"orient":"left","values":[0.9,1.1],"tickSize":-13,"labels":false,"domain":false,"title":null}}}},
{"mark":{"type":"line","interpolate":"monotone","strokeWidth":7,"color":"#9467bd","clip":true},
"encoding":{
"x":{"field":"E","type":"quantitative","scale":{"type":"log","domain":[10,10000000000],"nice":false},"axis":{"orient":"top","values":[10,1000,100000,10000000,1000000000],"tickSize":-24,"labels":false,"title":null}},
"y":{"field":"BGR","type":"quantitative","scale":{"domain":[0.75,1.25],"nice":false,"zero":false},"axis":{"orient":"right","values":[0.8,1.0,1.2],"tickSize":-24,"labels":false,"domain":false,"title":null}}}},
{"mark":{"type":"line","interpolate":"monotone","strokeWidth":7,"color":"#dc3545","clip":true},
"encoding":{
"x":{"field":"E","type":"quantitative","scale":{"type":"log","domain":[10,10000000000],"nice":false},"axis":{"orient":"top","values":[100,10000,1000000,100000000],"tickSize":-13,"labels":false,"domain":false,"title":null}},
"y":{"field":"CSMS","type":"quantitative","scale":{"domain":[0.75,1.25],"nice":false,"zero":false},"axis":{"orient":"right","values":[0.9,1.1],"tickSize":-13,"labels":false,"domain":false,"title":null}}}},
{"data":{"values":[{}]},
"mark":{"type":"text","align":"right","baseline":"alphabetic","fontSize":56,"font":"Liberation Serif","color":"#000000"},
"encoding":{
"x":{"datum":5900000000,"type":"quantitative","scale":{"type":"log","domain":[10,10000000000],"nice":false},"axis":null},
"y":{"datum":0.799,"type":"quantitative","scale":{"domain":[0.75,1.25],"nice":false,"zero":false},"axis":null},
"text":{"value":"Ref : NNSFν"}}}
]}
]
}
